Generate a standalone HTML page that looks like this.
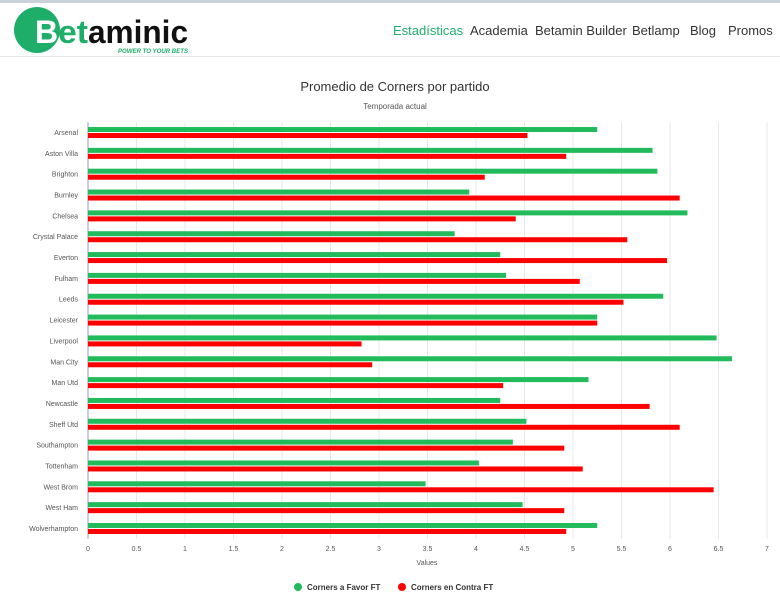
<!DOCTYPE html>
<html><head><meta charset="utf-8"><style>
body{margin:0;width:780px;height:600px;background:#fff;font-family:"Liberation Sans",sans-serif;overflow:hidden}
#hdr{position:absolute;left:0;top:0;width:780px;height:57px;border-top:3px solid #c9d2da;border-bottom:1px solid #e6e6e6;box-sizing:border-box}
.nav{position:absolute;top:20px;font-size:13px;color:#333}
</style></head><body>
<div id="hdr">
 <svg style="position:absolute;left:14px;top:3px" width="180" height="50">
  <circle cx="23" cy="24" r="23" fill="#1fae6a"/>
  <text x="21" y="37" font-size="32" font-weight="bold" fill="#fff" font-family="Liberation Sans">B</text>
  <text x="44" y="37" font-size="32" font-weight="bold" fill="#1fae6a" font-family="Liberation Sans" textLength="30" lengthAdjust="spacingAndGlyphs">et</text>
  <text x="74" y="37" font-size="32" font-weight="bold" fill="#111" font-family="Liberation Sans" textLength="100" lengthAdjust="spacingAndGlyphs">aminic</text>
  <text x="104" y="47" font-size="6.5" font-style="italic" font-weight="bold" fill="#1fae6a" textLength="70" lengthAdjust="spacingAndGlyphs">POWER TO YOUR BETS</text>
 </svg>
 <span class="nav" style="left:393px;color:#1fae6a">Estadísticas</span>
 <span class="nav" style="left:470px">Academia</span>
 <span class="nav" style="left:535px">Betamin Builder</span>
 <span class="nav" style="left:632px">Betlamp</span>
 <span class="nav" style="left:690px">Blog</span>
 <span class="nav" style="left:728px">Promos</span>
</div>
<svg id="chart" width="780" height="600" style="position:absolute;left:0;top:0"></svg>
<script>
const categories=["Arsenal","Aston Villa","Brighton","Burnley","Chelsea","Crystal Palace","Everton","Fulham","Leeds","Leicester","Liverpool","Man City","Man Utd","Newcastle","Sheff Utd","Southampton","Tottenham","West Brom","West Ham","Wolverhampton"];
const favor=[5.25,5.82,5.87,3.93,6.18,3.78,4.25,4.31,5.93,5.25,6.48,6.64,5.16,4.25,4.52,4.38,4.03,3.48,4.48,5.25];
const contra=[4.53,4.93,4.09,6.10,4.41,5.56,5.97,5.07,5.52,5.25,2.82,2.93,4.28,5.79,6.10,4.91,5.10,6.45,4.91,4.93];
const ticks=[0,0.5,1,1.5,2,2.5,3,3.5,4,4.5,5,5.5,6,6.5,7];
const svg=document.getElementById('chart');
const NS='http://www.w3.org/2000/svg';
const x0=88,x1=767,yTop=122.1,yBot=538.9;
const xs=v=>x0+(v/7)*(x1-x0);
const band=(yBot-yTop)/categories.length;
const yc=i=>yTop+band*(i+0.5);
function mk(t,a,txt){const e=document.createElementNS(NS,t);for(const k in a)e.setAttribute(k,a[k]);if(txt!==undefined)e.textContent=txt;svg.appendChild(e);return e;}
let e;
e=mk('text',{x:395,y:91,'text-anchor':'middle','font-size':13,fill:'#333'},'Promedio de Corners por partido');


e=mk('text',{x:395,y:109,'text-anchor':'middle','font-size':8,fill:'#555'},'Temporada actual');


ticks.forEach(t=>{
 e=mk('line',{x1:xs(t),x2:xs(t),y1:yTop,y2:yBot,stroke:t===0?'#ccd':'#e8e8e8','stroke-width':t===0?2:1});
 
 
 e=mk('text',{x:xs(t),y:551,'text-anchor':'middle','font-size':7,fill:'#555'},String(t));
 
 
});
e=mk('text',{x:427,y:565,'text-anchor':'middle','font-size':7,fill:'#555'},'Values');


categories.forEach((c,i)=>{
 const y=yc(i);
 e=mk('text',{x:78,y:y+2.5,'text-anchor':'end','font-size':7,fill:'#555'},c);
 
 
 e=mk('rect',{x:x0,y:y-5.5,width:xs(favor[i])-x0,height:5,fill:'#22bb5c'});
 
 
 e=mk('rect',{x:x0,y:y+0.5,width:xs(contra[i])-x0,height:5,fill:'#ff0000'});
 
 
});
e=mk('circle',{cx:298,cy:587,r:4,fill:'#22bb5c'});


e=mk('text',{x:307,y:590,'font-size':8,'font-weight':'bold',fill:'#333'},'Corners a Favor FT');


e=mk('circle',{cx:402,cy:587,r:4,fill:'#ff0000'});


e=mk('text',{x:411,y:590,'font-size':8,'font-weight':'bold',fill:'#333'},'Corners en Contra FT');


</script>
</body></html>
